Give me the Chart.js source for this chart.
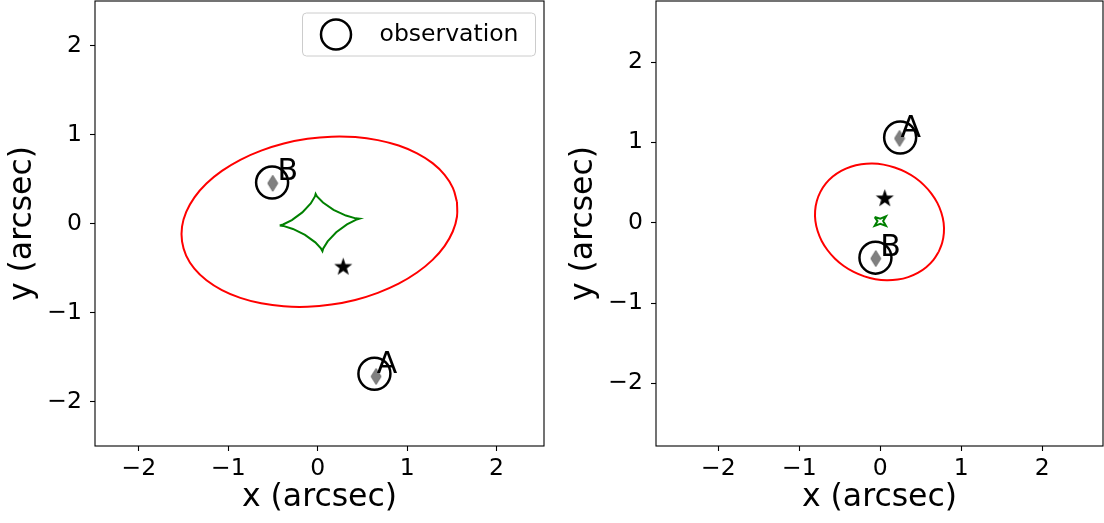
<!DOCTYPE html>
<html>
<head>
<meta charset="utf-8">
<script src="https://cdn.jsdelivr.net/npm/chart.js@4.4.1/dist/chart.umd.min.js"></script>
<style>
  body { margin: 0; background: #fff; }
  #left { position: absolute; left: 0; top: 0; }
  #right { position: absolute; left: 552px; top: 0; }
</style>
</head>
<body>
<canvas id="left" width="552" height="523"></canvas>
<canvas id="right" width="552" height="523"></canvas>
<script>
// tick values, both panels
const xTicks = [-2, -1, 0, 1, 2];
const yTicks = [-2, -1, 0, 1, 2];

// ---- left panel ----
// critical curve (red)
const leftCritX = [1.557, 1.511, 1.419, 1.284, 1.111, 0.905, 0.672, 0.420, 0.155, -0.114, -0.379, -0.632,
  -0.865, -1.071, -1.244, -1.378, -1.470, -1.517, -1.517, -1.471, -1.379, -1.244, -1.071, -0.865,
  -0.632, -0.380, -0.115, 0.154, 0.419, 0.672, 0.905, 1.111, 1.284, 1.418, 1.510, 1.557, 1.557];
const leftCritY = [0.242, 0.400, 0.547, 0.678, 0.788, 0.876, 0.937, 0.971, 0.976, 0.951, 0.899, 0.819,
  0.716, 0.591, 0.449, 0.294, 0.130, -0.036, -0.202, -0.360, -0.507, -0.638, -0.748, -0.836,
  -0.897, -0.931, -0.936, -0.911, -0.859, -0.779, -0.676, -0.551, -0.409, -0.254, -0.090, 0.076, 0.242];
// caustic (green)
const leftCausX = [-0.425, -0.387, -0.289, -0.172, -0.078, -0.031, -0.023, -0.008, 0.059, 0.177, 0.315, 0.424,
  0.465, 0.426, 0.327, 0.207, 0.111, 0.062, 0.053, 0.038, -0.027, -0.142, -0.277, -0.385, -0.425];
const leftCausY = [-0.022, -0.011, 0.039, 0.125, 0.225, 0.304, 0.333, 0.305, 0.236, 0.154, 0.089, 0.058,
  0.053, 0.041, -0.010, -0.098, -0.201, -0.281, -0.311, -0.283, -0.212, -0.128, -0.061, -0.027, -0.022];
const leftObsX = [0.634, -0.51];
const leftObsY = [-1.688, 0.46];
const leftModelX = [0.653, -0.503];
const leftModelY = [-1.719, 0.452];
const leftSrcX = [0.285];
const leftSrcY = [-0.49];
const leftNames = ["A", "B"];
const leftNameX = [0.66, -0.45];
const leftNameY = [-1.68, 0.49];

// ---- right panel ----
const rightCritX = [0.720, 0.764, 0.785, 0.782, 0.754, 0.704, 0.631, 0.539, 0.431, 0.309, 0.177, 0.040,
  -0.099, -0.235, -0.364, -0.483, -0.587, -0.674, -0.740, -0.784, -0.805, -0.802, -0.774, -0.724,
  -0.651, -0.559, -0.451, -0.329, -0.197, -0.060, 0.079, 0.215, 0.344, 0.463, 0.567, 0.654, 0.720];
const rightCritY = [-0.364, -0.250, -0.128, -0.002, 0.124, 0.247, 0.363, 0.468, 0.559, 0.633, 0.688, 0.723,
  0.736, 0.727, 0.697, 0.645, 0.574, 0.486, 0.384, 0.270, 0.148, 0.022, -0.104, -0.227,
  -0.343, -0.448, -0.539, -0.613, -0.668, -0.703, -0.716, -0.707, -0.677, -0.625, -0.554, -0.466, -0.364];
const rightCausX = [-0.07, 0.0, 0.07, 0.035, 0.07, 0.0, -0.07, -0.035, -0.07];
const rightCausY = [0.07, 0.05, 0.08, 0.02, -0.04, -0.015, -0.04, 0.02, 0.07];
const rightObsX = [0.245, -0.06];
const rightObsY = [1.06, -0.435];
const rightModelX = [0.237, -0.056];
const rightModelY = [1.049, -0.446];
const rightSrcX = [0.055];
const rightSrcY = [0.30];
const rightNames = ["A", "B"];
const rightNameX = [0.25, 0.0];
const rightNameY = [1.065, -0.42];

Chart.defaults.font.family = "DejaVu Sans";

function pts(xs, ys) {
    return xs.map((x, i) => ({ x: x, y: ys[i] }));
}

function fmtTick(v) {
    return v < 0 ? "\u2212" + Math.abs(v) : String(v);
}

// thin grey diamond marker
function makeDiamond(w, h) {
    const c = document.createElement("canvas");
    c.width = w + 2;
    c.height = h + 2;
    const g = c.getContext("2d");
    g.beginPath();
    g.moveTo(c.width / 2, 1);
    g.lineTo(c.width - 1, c.height / 2);
    g.lineTo(c.width / 2, c.height - 1);
    g.lineTo(1, c.height / 2);
    g.closePath();
    g.fillStyle = "#808080";
    g.fill();
    g.strokeStyle = "#6e6e6e";
    g.lineWidth = 1;
    g.stroke();
    return c;
}

// filled black star marker
function makeStar(r) {
    const c = document.createElement("canvas");
    c.width = c.height = Math.ceil(r * 2 + 2);
    const g = c.getContext("2d");
    const cx = c.width / 2, cy = c.height / 2;
    g.beginPath();
    for (let i = 0; i < 10; i++) {
        const rad = i % 2 === 0 ? r : r * 0.4;
        const a = -Math.PI / 2 + i * Math.PI / 5;
        g.lineTo(cx + rad * Math.cos(a), cy + rad * Math.sin(a));
    }
    g.closePath();
    g.fillStyle = "#000";
    g.fill();
    return c;
}

const diamondImg = makeDiamond(10, 16);
const starImg = makeStar(9.5);

// spines, A/B labels and the legend box
const framePlugin = {
    id: "frame",
    afterDatasetsDraw(chart, args, opts) {
        const { ctx, chartArea: a, scales } = chart;
        ctx.save();
        ctx.strokeStyle = "#000";
        ctx.lineWidth = 1.1;
        ctx.strokeRect(a.left, a.top, a.right - a.left, a.bottom - a.top);

        ctx.fillStyle = "#000";
        ctx.font = '30px "DejaVu Sans"';
        ctx.textAlign = "left";
        ctx.textBaseline = "alphabetic";
        opts.names.forEach((t, i) => {
            ctx.fillText(t, scales.x.getPixelForValue(opts.nameX[i]), scales.y.getPixelForValue(opts.nameY[i]));
        });

        if (opts.legend) {
            const w = 233, h = 43;
            const x0 = a.right - 8.5 - w, y0 = a.top + 12;
            ctx.beginPath();
            ctx.roundRect(x0, y0, w, h, 4);
            ctx.fillStyle = "rgba(255,255,255,0.8)";
            ctx.fill();
            ctx.strokeStyle = "#cccccc";
            ctx.lineWidth = 1;
            ctx.stroke();
            ctx.beginPath();
            ctx.arc(x0 + 33.5, y0 + 21.5, 15, 0, Math.PI * 2);
            ctx.strokeStyle = "#000";
            ctx.lineWidth = 2.5;
            ctx.stroke();
            ctx.fillStyle = "#000";
            ctx.font = '23.5px "DejaVu Sans"';
            ctx.textBaseline = "middle";
            ctx.fillText(opts.legend, x0 + 77, y0 + 22);
        }
        ctx.restore();
    }
};

// no extra room for end tick labels: the plot box is set by afterFit alone
function noPad(s) {
    s.paddingTop = 0;
    s.paddingBottom = 0;
    s.paddingLeft = 0;
    s.paddingRight = 0;
}

function axis(min, max, ticks, title, fit, titlePad) {
    return {
        type: "linear",
        min: min,
        max: max,
        afterBuildTicks: s => { s.ticks = ticks.map(v => ({ value: v })); },
        afterFit: s => { fit(s); noPad(s); },
        grid: { drawOnChartArea: false, drawTicks: true, tickLength: 5, tickColor: "#000", tickWidth: 1.1 },
        border: { display: false },
        ticks: {
            color: "#000",
            font: { size: 23.5 },
            autoSkip: false,
            maxRotation: 0,
            callback: fmtTick
        },
        title: { display: true, text: title, color: "#000", font: { size: 31.5 }, padding: titlePad }
    };
}

function makeChart(id, d) {
    const ctx = document.getElementById(id).getContext("2d");
    const xAxis = axis(d.xMin, d.xMax, xTicks, "x (arcsec)", s => { s.height = 77; }, { top: 0, bottom: 6.5 });
    xAxis.ticks.padding = 4;
    const yAxis = axis(d.yMin, d.yMax, yTicks, "y (arcsec)", s => { s.width = d.yWidth; }, { top: d.yTitlePad, bottom: 0 });
    yAxis.ticks.padding = 8;

    return new Chart(ctx, {
        type: "scatter",
        data: {
            datasets: [
                {
                    label: "critical curve",
                    data: pts(d.critX, d.critY),
                    showLine: true,
                    borderColor: "#ff0000",
                    borderWidth: 2,
                    pointRadius: 0,
                    tension: 0.4,
                    order: 5
                },
                {
                    label: "caustic",
                    data: pts(d.causX, d.causY),
                    showLine: true,
                    borderColor: "#008000",
                    borderWidth: 2,
                    pointRadius: 0,
                    tension: 0,
                    order: 4
                },
                {
                    label: "observation",
                    data: pts(d.obsX, d.obsY),
                    pointStyle: "circle",
                    pointRadius: 16,
                    borderColor: "#000",
                    borderWidth: 2.5,
                    backgroundColor: "rgba(0,0,0,0)",
                    order: 3
                },
                {
                    label: "model",
                    data: pts(d.modelX, d.modelY),
                    pointStyle: diamondImg,
                    pointRadius: 8,
                    order: 2
                },
                {
                    label: "source",
                    data: pts(d.srcX, d.srcY),
                    pointStyle: starImg,
                    pointRadius: 9,
                    order: 1
                }
            ]
        },
        options: {
            responsive: false,
            animation: false,
            events: [],
            // point radius must not push the plot box inwards
            layout: { autoPadding: false, padding: { top: 1, right: d.padRight, bottom: 0, left: 0 } },
            scales: { x: xAxis, y: yAxis },
            plugins: {
                legend: { display: false },
                tooltip: { enabled: false },
                frame: { names: d.names, nameX: d.nameX, nameY: d.nameY, legend: d.legend }
            }
        },
        plugins: [framePlugin]
    });
}

makeChart("left", {
    xMin: -2.49, xMax: 2.53, yMin: -2.5, yMax: 2.5,
    yWidth: 95, yTitlePad: 4, padRight: 8,
    critX: leftCritX, critY: leftCritY, causX: leftCausX, causY: leftCausY,
    obsX: leftObsX, obsY: leftObsY, modelX: leftModelX, modelY: leftModelY,
    srcX: leftSrcX, srcY: leftSrcY,
    names: leftNames, nameX: leftNameX, nameY: leftNameY,
    legend: "observation"
});

makeChart("right", {
    xMin: -2.77, xMax: 2.75, yMin: -2.78, yMax: 2.76,
    yWidth: 104, yTitlePad: 13, padRight: 1,
    critX: rightCritX, critY: rightCritY, causX: rightCausX, causY: rightCausY,
    obsX: rightObsX, obsY: rightObsY, modelX: rightModelX, modelY: rightModelY,
    srcX: rightSrcX, srcY: rightSrcY,
    names: rightNames, nameX: rightNameX, nameY: rightNameY,
    legend: null
});
</script>
</body>
</html>
